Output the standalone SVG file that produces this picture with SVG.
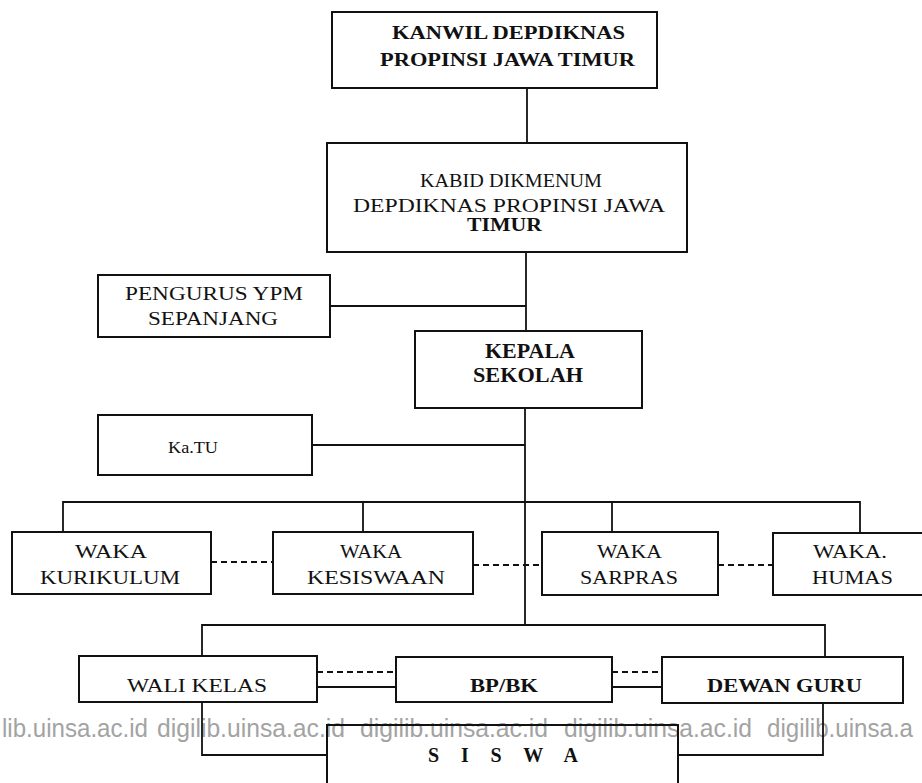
<svg xmlns="http://www.w3.org/2000/svg" width="922" height="783" viewBox="0 0 922 783">
<style>
.bg{fill:#ffffff}
.box{fill:none;stroke:#111;stroke-width:2}
.ln{fill:none;stroke:#111;stroke-width:1.8}
.dash{fill:none;stroke:#111;stroke-width:1.8;stroke-dasharray:6 4}
.t{font-family:"Liberation Serif","Times New Roman",serif;font-size:19px;fill:#111}
.b{font-weight:bold}
.wm{font-family:"Liberation Sans",Arial,sans-serif;font-size:26px;fill:#a3a3a3}
</style>
<rect class="bg" x="0" y="0" width="922" height="783"/>

<g id="watermark">
<text class="wm" x="2" y="737" textLength="146" lengthAdjust="spacingAndGlyphs">lib.uinsa.ac.id</text>
<text class="wm" x="157" y="737" textLength="188" lengthAdjust="spacingAndGlyphs">digilib.uinsa.ac.id</text>
<text class="wm" x="360" y="737" textLength="188" lengthAdjust="spacingAndGlyphs">digilib.uinsa.ac.id</text>
<text class="wm" x="564" y="737" textLength="188" lengthAdjust="spacingAndGlyphs">digilib.uinsa.ac.id</text>
<text class="wm" x="767" y="737" textLength="146" lengthAdjust="spacingAndGlyphs">digilib.uinsa.a</text>
</g>

<g id="connectors">
<line class="ln" x1="527" y1="88" x2="527" y2="143"/>
<line class="ln" x1="526" y1="252" x2="526" y2="331"/>
<line class="ln" x1="330" y1="306" x2="526" y2="306"/>
<line class="ln" x1="525" y1="408" x2="525" y2="625"/>
<line class="ln" x1="312" y1="445" x2="525" y2="445"/>
<polyline class="ln" points="63,532 63,502 860,502 860,533"/>
<line class="ln" x1="363" y1="502" x2="363" y2="532"/>
<line class="ln" x1="612" y1="502" x2="612" y2="532"/>
<line class="dash" x1="211" y1="562" x2="273" y2="562"/>
<line class="dash" x1="473" y1="565" x2="542" y2="565"/>
<line class="dash" x1="718" y1="565" x2="773" y2="565"/>
<polyline class="ln" points="202,656 202,625 825,625 825,657"/>
<line class="dash" x1="317" y1="672" x2="396" y2="672"/>
<line class="ln" x1="317" y1="687" x2="396" y2="687"/>
<line class="dash" x1="612" y1="672" x2="662" y2="672"/>
<line class="ln" x1="612" y1="687" x2="662" y2="687"/>
<polyline class="ln" points="202,702 202,755 327,755"/>
<polyline class="ln" points="823,703 823,755 678,755"/>
</g>

<g id="kanwil">
<rect class="box" x="332" y="12" width="325" height="76"/>
<text class="t b" x="392" y="39" textLength="233" lengthAdjust="spacingAndGlyphs">KANWIL DEPDIKNAS</text>
<text class="t b" x="380" y="66" textLength="255" lengthAdjust="spacingAndGlyphs">PROPINSI JAWA TIMUR</text>
</g>

<g id="kabid">
<rect class="box" x="327" y="143" width="360" height="109"/>
<text class="t" x="420" y="187" textLength="182" lengthAdjust="spacingAndGlyphs">KABID DIKMENUM</text>
<text class="t" x="353" y="212" textLength="312" lengthAdjust="spacingAndGlyphs">DEPDIKNAS PROPINSI JAWA</text>
<text class="t b" x="467" y="231" textLength="75" lengthAdjust="spacingAndGlyphs">TIMUR</text>
</g>

<g id="pengurus">
<rect class="box" x="98" y="275" width="232" height="62"/>
<text class="t" x="125" y="300" textLength="178" lengthAdjust="spacingAndGlyphs">PENGURUS YPM</text>
<text class="t" x="148" y="325" textLength="130" lengthAdjust="spacingAndGlyphs">SEPANJANG</text>
</g>

<g id="kepala">
<rect class="box" x="415" y="331" width="227" height="77"/>
<text class="t b" x="485" y="358" textLength="90" lengthAdjust="spacingAndGlyphs" style="font-size:21px">KEPALA</text>
<text class="t b" x="473" y="382" textLength="110" lengthAdjust="spacingAndGlyphs" style="font-size:21px">SEKOLAH</text>
</g>

<g id="katu">
<rect class="box" x="98" y="415" width="214" height="60"/>
<text class="t" x="168" y="453" textLength="50" lengthAdjust="spacingAndGlyphs" style="font-size:17px">Ka.TU</text>
</g>

<g id="waka-kurikulum">
<rect class="box" x="12" y="532" width="199" height="62"/>
<text class="t" x="75" y="558" textLength="72" lengthAdjust="spacingAndGlyphs">WAKA</text>
<text class="t" x="40" y="584" textLength="140" lengthAdjust="spacingAndGlyphs">KURIKULUM</text>
</g>

<g id="waka-kesiswaan">
<rect class="box" x="273" y="532" width="200" height="62"/>
<text class="t" x="340" y="558" textLength="62" lengthAdjust="spacingAndGlyphs">WAKA</text>
<text class="t" x="307" y="584" textLength="138" lengthAdjust="spacingAndGlyphs">KESISWAAN</text>
</g>

<g id="waka-sarpras">
<rect class="box" x="542" y="532" width="176" height="63"/>
<text class="t" x="597" y="558" textLength="65" lengthAdjust="spacingAndGlyphs">WAKA</text>
<text class="t" x="580" y="584" textLength="98" lengthAdjust="spacingAndGlyphs">SARPRAS</text>
</g>

<g id="waka-humas">
<rect class="box" x="773" y="533" width="160" height="62"/>
<text class="t" x="813" y="558" textLength="74" lengthAdjust="spacingAndGlyphs">WAKA.</text>
<text class="t" x="812" y="584" textLength="81" lengthAdjust="spacingAndGlyphs">HUMAS</text>
</g>

<g id="wali-kelas">
<rect class="box" x="79" y="656" width="238" height="46"/>
<text class="t" x="127" y="692" textLength="140" lengthAdjust="spacingAndGlyphs">WALI KELAS</text>
</g>

<g id="bp-bk">
<rect class="box" x="396" y="657" width="216" height="45"/>
<text class="t b" x="470" y="692" textLength="68" lengthAdjust="spacingAndGlyphs">BP/BK</text>
</g>

<g id="dewan-guru">
<rect class="box" x="662" y="657" width="241" height="46"/>
<text class="t b" x="707" y="692" textLength="155" lengthAdjust="spacingAndGlyphs">DEWAN GURU</text>
</g>

<g id="siswa">
<rect class="box" x="327" y="725" width="351" height="80"/>
<text class="t b" x="428" y="762" textLength="150" lengthAdjust="spacing" style="font-size:20px">S I S W A</text>
</g>
</svg>
